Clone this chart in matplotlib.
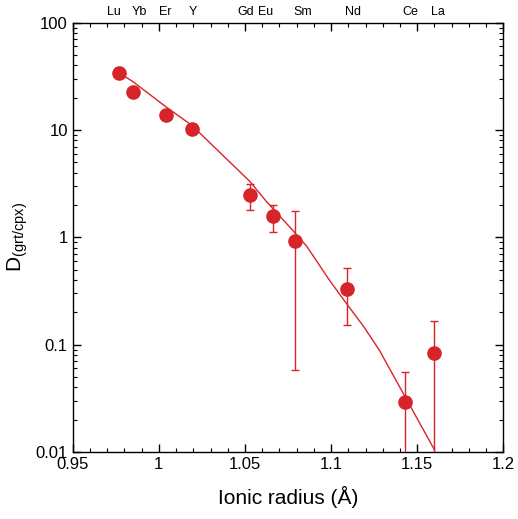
import numpy as np
import matplotlib.pyplot as plt
from matplotlib.ticker import MultipleLocator, LogLocator, NullFormatter

plt.rcParams['font.family'] = ['Liberation Sans', 'DejaVu Sans']

# measured partition coefficients
elements = ['Lu', 'Yb', 'Er', 'Y', 'Gd', 'Eu', 'Sm', 'Nd', 'Ce', 'La']
radius = [0.977, 0.985, 1.004, 1.019, 1.053, 1.066, 1.079, 1.109, 1.143, 1.160]
D = [34.0, 22.7, 13.9, 10.2, 2.49, 1.58, 0.917, 0.327, 0.0294, 0.084]
D_low = [34.0, 22.7, 12.3, 10.2, 1.80, 1.11, 0.058, 0.153, 0.001, 0.001]
D_high = [34.0, 22.7, 15.3, 10.2, 3.14, 2.00, 1.77, 0.514, 0.0552, 0.166]

# lattice strain fit curve
fit_r = [0.977, 0.985, 1.004, 1.019, 1.034, 1.053, 1.062, 1.078, 1.086, 1.099,
         1.109, 1.119, 1.128, 1.143, 1.160]
fit_D = [34.0, 28.2, 16.5, 11.1, 6.5, 3.3, 2.2, 1.15, 0.82, 0.40,
         0.241, 0.147, 0.089, 0.0327, 0.0105]

# where the element names sit along the top (spread a bit to avoid overlap)
label_x = [0.974, 0.9885, 1.0036, 1.0199, 1.0506, 1.0622, 1.0837, 1.1127, 1.1458, 1.1621]

red = '#d9232b'

fig = plt.figure(figsize=(5.18, 5.19), dpi=100)
ax = fig.add_axes([0.1404, 0.1291, 0.8312, 0.8272])

ax.plot(fit_r, fit_D, color=red, lw=1.0, zorder=2)
yerr = [np.array(D) - np.array(D_low), np.array(D_high) - np.array(D)]
ax.errorbar(radius, D, yerr=yerr, fmt='o', color=red, ms=9.5, elinewidth=1.0,
            capsize=3, capthick=1.0, zorder=3)

ax.set_yscale('log')
ax.set_xlim(0.95, 1.2)
ax.set_ylim(0.01, 100)
ax.set_yticks([0.01, 0.1, 1, 10, 100])
ax.set_yticklabels(['0.01', '0.1', '1', '10', '100'])
ax.yaxis.set_minor_locator(LogLocator(base=10, subs=np.arange(2, 10)))
ax.yaxis.set_minor_formatter(NullFormatter())
ax.xaxis.set_minor_locator(MultipleLocator(0.01))
ax.set_xticks([0.95, 1.0, 1.05, 1.1, 1.15, 1.2])
ax.set_xticklabels(['0.95', '1', '1.05', '1.1', '1.15', '1.2'])

ax.tick_params(which='both', direction='in', top=True, right=True, labelsize=12)
ax.tick_params(which='major', length=6, width=1.0)
ax.tick_params(which='minor', length=3, width=0.8)
for s in ax.spines.values():
    s.set_linewidth(1.0)

# element labels above the top axis
for el, lx in zip(elements, label_x):
    ax.text(lx, 1.01, el, transform=ax.get_xaxis_transform(), ha='center', va='bottom',
            fontsize=9)

ax.set_xlabel('Ionic radius (Å)', fontsize=15, labelpad=10)
ax.set_ylabel(r'D$_{\mathregular{(grt/cpx)}}$', fontsize=15, labelpad=4)

fig.savefig('out.png', dpi=100)
